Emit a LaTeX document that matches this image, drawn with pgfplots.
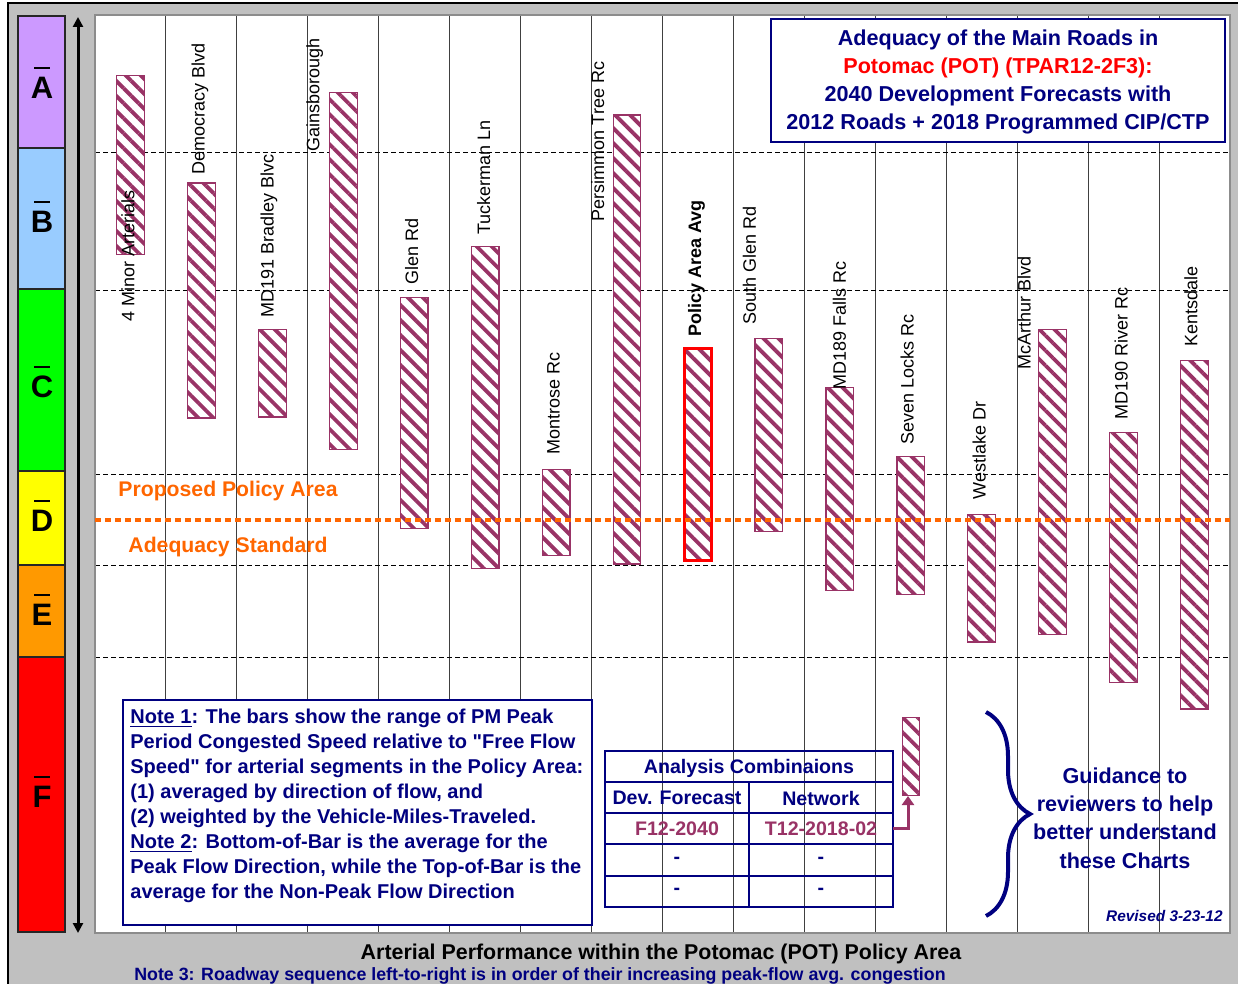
\documentclass[border=0pt]{standalone}
\usepackage{fontspec}
\setmainfont{Liberation Sans}
\usepackage{pgfplots}
\pgfplotsset{compat=1.18}
\usepackage{pgfplotstable}
\usetikzlibrary{patterns.meta,arrows.meta,decorations.pathreplacing}

\definecolor{plum}{HTML}{993366}
\definecolor{navy}{HTML}{000080}
\definecolor{orng}{HTML}{FF6600}
\definecolor{bggray}{HTML}{C0C0C0}
\definecolor{bandA}{HTML}{CC99FF}
\definecolor{bandB}{HTML}{99CCFF}
\definecolor{bandC}{HTML}{00FF00}
\definecolor{bandD}{HTML}{FFFF00}
\definecolor{bandE}{HTML}{FF9900}
\definecolor{bandF}{HTML}{FF0000}

% bottom = peak-flow direction, top = non-peak direction (speed relative to free flow)
\pgfplotstableread{
x bot top
0  73.9 93.4
1  56.1 81.7
2  56.2 65.7
3  52.7 91.6
4  44.1 69.2
5  39.7 74.8
6  41.1 50.5
7  40.2 89.1
8  40.6 63.7
9  43.7 64.8
10 37.3 59.4
11 36.9 51.9
12 31.7 45.6
13 32.5 65.7
14 27.3 54.5
15 24.4 62.4
}\bars
\pgfplotstableread{
x bot top
8 40.6 63.7
}\policybar
\pgfplotstableread{
x bot top
11 15.0 23.5
}\legendbar

\pgfplotsset{base/.style={at={(47.5pt,-466.5pt)}, anchor=south west,
  width=567.5pt, height=459pt, scale only axis,
  xmin=-0.5, xmax=15.5, ymin=0, ymax=100}}
\tikzset{hatch/.style={fill=white, draw=plum, line width=0.6pt,
  postaction={pattern={Lines[angle=-45,distance=5.3pt,line width=1.9pt]}, pattern color=plum}},
  rl/.style={rotate=90, anchor=west, inner sep=0pt, font=\fontsize{9}{10}\selectfont}}

\begin{document}
\begin{tikzpicture}
\begin{scope}[x=0.5pt,y=-0.5pt]
\fill[white] (0,0) rectangle (1238,984);
\fill[bggray] (8,3) rectangle (1238,984);
\draw[black,line width=0.8pt] (8,984) -- (8,3) -- (1238,3);
\fill[bandA] (18,16) rectangle (65,148);
\fill[bandB] (18,148) rectangle (65,289);
\fill[bandC] (18,289) rectangle (65,471);
\fill[bandD] (18,471) rectangle (65,565);
\fill[bandE] (18,565) rectangle (65,657);
\fill[bandF] (18,657) rectangle (65,932);
\draw[black!85, line width=0.6pt] (18,16) rectangle (65,932);
\foreach \yy in {148,289,471,565,657} \draw[black!85,line width=0.6pt] (18,\yy) -- (65,\yy);
\foreach \l/\yy in {A/88,B/222,C/387,D/521,E/615,F/797} {
  \node[font=\fontsize{15.5}{16}\selectfont\bfseries, inner sep=0pt] at (42,\yy) {\l};
  \draw[line width=1.3pt] (34,\yy-20) -- (50,\yy-20);
}
\draw[line width=1.5pt, {Triangle[length=5pt,width=5pt]}-{Triangle[length=5pt,width=5pt]}] (78,17) -- (78,933);
\end{scope}

\begin{axis}[base, ybar stacked, bar width=0.39,
  xtick={0.5,1.5,...,14.5}, ytick={30,40,50,70,85},
  xticklabels={}, yticklabels={},
  xmajorgrids, ymajorgrids, major tick length=0pt,
  x grid style={black!75, line width=0.5pt},
  y grid style={black, line width=0.5pt, dash pattern=on 2.5pt off 1.5pt},
  axis line style={draw=black!45, line width=0.8pt},
  axis background/.style={fill=white}]
\addplot[draw=none, fill=none, forget plot] table[x=x, y=bot] {\bars};
\addplot[hatch] table[x=x, y expr=\thisrow{top}-\thisrow{bot}] {\bars};
\end{axis}

\begin{axis}[base, hide axis, ybar stacked, bar width=0.39]
\addplot[draw=none, fill=none] table[x=x, y=bot] {\policybar};
\addplot[draw=red, line width=1.5pt, fill=none] table[x=x, y expr=\thisrow{top}-\thisrow{bot}] {\policybar};
\end{axis}

\begin{axis}[base, hide axis, ybar stacked, bar width=0.24]
\addplot[draw=none, fill=none] table[x=x, y=bot] {\legendbar};
\addplot[hatch] table[x=x, y expr=\thisrow{top}-\thisrow{bot}] {\legendbar};
\end{axis}

\begin{axis}[base, hide axis]
\addplot[orng, line width=2pt, dash pattern=on 3pt off 2pt] coordinates {(-0.5,45) (15.5,45)};
\node[rl] at (axis cs:-0.035,66.6) {4 Minor Arterials};
\node[rl] at (axis cs:0.979,82.6) {Democracy Blvd};
\node[rl] at (axis cs:1.951,67.0) {MD191 Bradley Blvc};
\node[rl] at (axis cs:2.599,85.1) {Gainsborough};
\node[rl] at (axis cs:3.965,70.6) {Glen Rd};
\node[rl] at (axis cs:4.979,76.0) {Tuckerman Ln};
\node[rl] at (axis cs:5.965,52.1) {Montrose Rc};
\node[rl] at (axis cs:6.585,77.5) {Persimmon Tree Rc};
\node[rl, font=\fontsize{9}{10}\selectfont\bfseries] at (axis cs:7.979,64.9) {Policy Area Avg};
\node[rl] at (axis cs:8.725,66.2) {South Glen Rd};
\node[rl] at (axis cs:9.993,59.2) {MD189 Falls Rc};
\node[rl] at (axis cs:10.951,53.2) {Seven Locks Rc};
\node[rl] at (axis cs:11.965,47.2) {Westlake Dr};
\node[rl] at (axis cs:12.599,61.3) {McArthur Blvd};
\node[rl] at (axis cs:13.965,55.9) {MD190 River Rc};
\node[rl] at (axis cs:14.951,63.8) {Kentsdale};
\end{axis}

\begin{scope}[x=0.5pt,y=-0.5pt]
\node[font=\fontsize{10.6}{12}\selectfont\bfseries, text=orng] at (228,491) {Proposed Policy Area};
\node[font=\fontsize{10.6}{12}\selectfont\bfseries, text=orng] at (228,547) {Adequacy Standard};
% title box
\draw[navy, line width=1.4pt, fill=white] (771,19) rectangle (1225,142);
\node[align=center, font=\fontsize{10.8}{14}\selectfont\bfseries, text=navy] at (998,82)
 {Adequacy of the Main Roads in\\ \textcolor{red}{Potomac (POT) (TPAR12-2F3):}\\ 2040 Development Forecasts with\\ 2012 Roads + 2018 Programmed CIP/CTP};
% note box
\draw[navy, line width=1.2pt, fill=white] (123,700) rectangle (592,925);
\node[anchor=north west, inner sep=0pt, align=left, font=\fontsize{10}{12.5}\selectfont\bfseries, text=navy] at (130,709)
 {\underline{Note 1}: The bars show the range of PM Peak\\
  Period Congested Speed relative to \textquotedbl Free Flow\\
  Speed\textquotedbl{} for arterial segments in the Policy Area:\\
  (1) averaged by direction of flow, and\\
  (2) weighted by the Vehicle-Miles-Traveled.\\
  \underline{Note 2}: Bottom-of-Bar is the average for the\\
  Peak Flow Direction, while the Top-of-Bar is the\\
  average for the Non-Peak Flow Direction};
% table
\draw[navy, line width=0.8pt] (605,751) rectangle (893,907);
\foreach \yy in {782,813,844,876} \draw[navy, line width=0.8pt] (605,\yy) -- (893,\yy);
\draw[navy, line width=0.8pt] (749,782) -- (749,907);
\begin{scope}[every node/.style={font=\fontsize{9.8}{11}\selectfont\bfseries}]
\node[text=navy] at (749,768) {Analysis Combinaions};
\node[text=navy] at (677,798) {Dev. Forecast};
\node[text=navy] at (821,798) {Network};
\node[text=plum] at (677,829) {F12-2040};
\node[text=plum] at (821,829) {T12-2018-02};
\node[text=navy] at (677,860) {-};
\node[text=navy] at (821,860) {-};
\node[text=navy] at (677,891) {-};
\node[text=navy] at (821,891) {-};
\end{scope}
\draw[plum, line width=1.5pt, -{Triangle[length=4.5pt,width=6pt]}] (893,828) -- (908,828) -- (908,796);
% brace
\draw[navy, line width=2pt, decorate, decoration={brace, amplitude=22pt}] (986,712) -- (986,916);
\node[align=center, font=\fontsize{10.8}{14.2}\selectfont\bfseries, text=navy] at (1125,818)
 {Guidance to\\ reviewers to help\\ better understand\\ these Charts};
\node[anchor=east, inner sep=0pt, font=\fontsize{7.7}{9}\selectfont\bfseries\itshape, text=navy] at (1223,916) {Revised 3-23-12};
% bottom titles
\node[font=\fontsize{10.7}{12}\selectfont\bfseries] at (661,954) {Arterial Performance within the Potomac (POT) Policy Area};
\node[font=\fontsize{8.9}{10}\selectfont\bfseries, text=navy] at (540,976) {Note 3: Roadway sequence left-to-right is in order of their increasing peak-flow avg. congestion};
\end{scope}
\pgfresetboundingbox
\path[use as bounding box] (0,0) rectangle (619pt,-492pt);
\end{tikzpicture}
\end{document}
